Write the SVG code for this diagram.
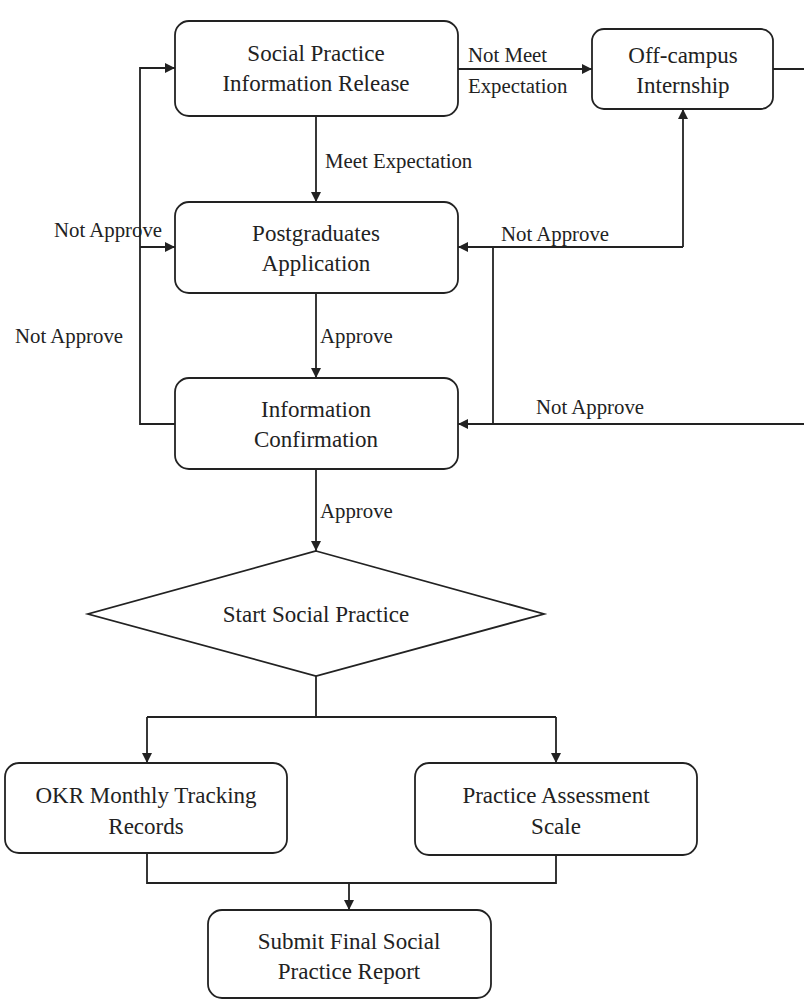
<svg xmlns="http://www.w3.org/2000/svg" width="804" height="999" viewBox="0 0 804 999">
<style>
.box{fill:#fff;stroke:#222;stroke-width:1.8}
.ln{fill:none;stroke:#222;stroke-width:1.8}
.t{font-family:'Liberation Serif','DejaVu Serif',serif;font-size:23px;fill:#222;text-anchor:middle}
.lb{font-family:'Liberation Serif','DejaVu Serif',serif;font-size:20.8px;fill:#222}
</style>
<defs>
<marker id="ah" viewBox="0 0 10 10" refX="10" refY="5" markerWidth="10" markerHeight="10" markerUnits="userSpaceOnUse" orient="auto">
<path d="M0,0 L10,5 L0,10 z" fill="#222"/>
</marker>
</defs>
<rect width="804" height="999" fill="#fff"/>
<g id="connectors">
<path class="ln" d="M316,116 V202" marker-end="url(#ah)"/>
<path class="ln" d="M316,293 V378" marker-end="url(#ah)"/>
<path class="ln" d="M316,469 V551" marker-end="url(#ah)"/>
<path class="ln" d="M458,69 H592" marker-end="url(#ah)"/>
<path class="ln" d="M175,424 H140 V68 H175" marker-end="url(#ah)"/>
<path class="ln" d="M140,247 H175" marker-end="url(#ah)"/>
<path class="ln" d="M773,69 H812 V424 H458" marker-end="url(#ah)"/>
<path class="ln" d="M683,247 V109" marker-end="url(#ah)"/>
<path class="ln" d="M683,247 H458" marker-end="url(#ah)"/>
<path class="ln" d="M493,247 V424"/>
<path class="ln" d="M316,676 V717 M147,717 H556"/>
<path class="ln" d="M147,717 V763" marker-end="url(#ah)"/>
<path class="ln" d="M556,717 V763" marker-end="url(#ah)"/>
<path class="ln" d="M147,853 V883 H556 V855"/>
<path class="ln" d="M349,883 V910" marker-end="url(#ah)"/>
<text class="lb" x="325" y="168">Meet Expectation</text>
<text class="lb" x="468" y="62">Not Meet</text>
<text class="lb" x="468" y="93">Expectation</text>
<text class="lb" x="54" y="237">Not Approve</text>
<text class="lb" x="15" y="343">Not Approve</text>
<text class="lb" x="320" y="343">Approve</text>
<text class="lb" x="501" y="241">Not Approve</text>
<text class="lb" x="536" y="414">Not Approve</text>
<text class="lb" x="320" y="518">Approve</text>
</g>
<g id="n-release">
<rect class="box" x="175" y="21" width="283" height="95" rx="14"/>
<text class="t" x="316" y="61">Social Practice</text>
<text class="t" x="316" y="91">Information Release</text>
</g>
<g id="n-offcampus">
<rect class="box" x="592" y="29" width="181" height="80" rx="12"/>
<text class="t" x="683" y="63">Off-campus</text>
<text class="t" x="683" y="93">Internship</text>
</g>
<g id="n-application">
<rect class="box" x="175" y="202" width="283" height="91" rx="14"/>
<text class="t" x="316" y="241">Postgraduates</text>
<text class="t" x="316" y="271">Application</text>
</g>
<g id="n-confirm">
<rect class="box" x="175" y="378" width="283" height="91" rx="14"/>
<text class="t" x="316" y="417">Information</text>
<text class="t" x="316" y="447">Confirmation</text>
</g>
<g id="n-start">
<polygon class="box" points="316,551 544,614 316,676 88,614"/>
<text class="t" x="316" y="622">Start Social Practice</text>
</g>
<g id="n-okr">
<rect class="box" x="5" y="763" width="282" height="90" rx="14"/>
<text class="t" x="146" y="803">OKR Monthly Tracking</text>
<text class="t" x="146" y="834">Records</text>
</g>
<g id="n-scale">
<rect class="box" x="415" y="763" width="282" height="92" rx="14"/>
<text class="t" x="556" y="803">Practice Assessment</text>
<text class="t" x="556" y="834">Scale</text>
</g>
<g id="n-report">
<rect class="box" x="208" y="910" width="283" height="88" rx="14"/>
<text class="t" x="349" y="949">Submit Final Social</text>
<text class="t" x="349" y="979">Practice Report</text>
</g>
</svg>
